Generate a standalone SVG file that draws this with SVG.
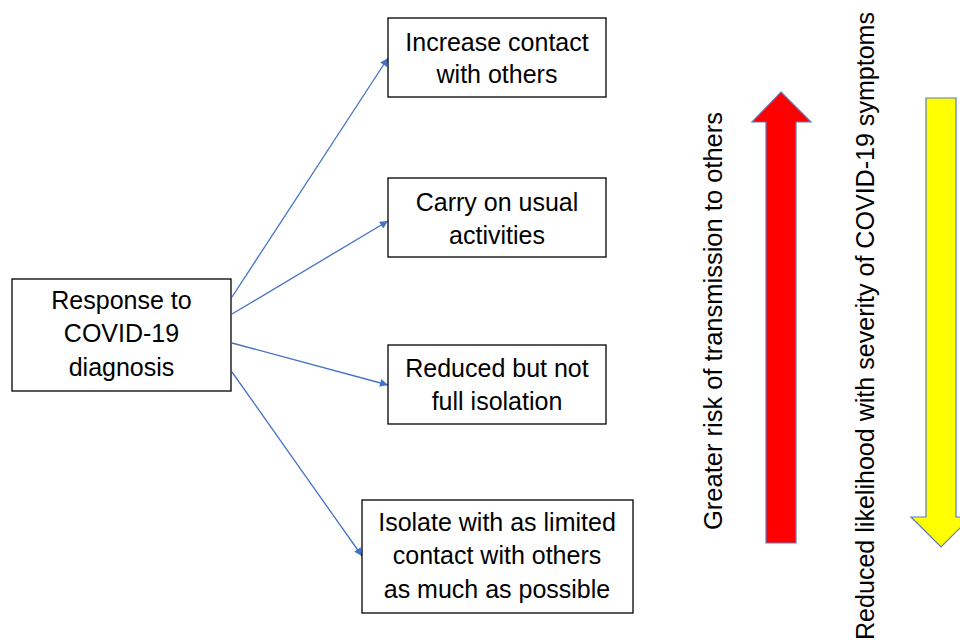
<svg xmlns="http://www.w3.org/2000/svg" width="960" height="644" viewBox="0 0 960 644">
<style>
.box{fill:#fff;stroke:#000;stroke-width:1.3}
.t{font-family:"Liberation Sans",Arial,sans-serif;font-size:25px;fill:#000;text-anchor:middle}
.c{stroke:#4472C4;stroke-width:1.3;fill:none;marker-end:url(#ah)}
.big{stroke:#5B7BC0;stroke-width:1.2}
</style>
<defs>
<marker id="ah" viewBox="0 0 10 10" refX="10" refY="5" markerWidth="9" markerHeight="8" markerUnits="userSpaceOnUse" orient="auto">
<path d="M0,0 L10,5 L0,10 z" fill="#4472C4"/>
</marker>
</defs>
<rect width="960" height="644" fill="#fff"/>
<g id="connectors">
<line class="c" x1="232" y1="297" x2="388" y2="58"/>
<line class="c" x1="232" y1="314" x2="388" y2="221"/>
<line class="c" x1="232" y1="343" x2="388" y2="385"/>
<line class="c" x1="232" y1="372" x2="362" y2="556"/>
</g>
<g id="source">
<rect class="box" x="12" y="279" width="219" height="112"/>
<text class="t" x="121.5" y="309">Response to</text>
<text class="t" x="121.5" y="342">COVID-19</text>
<text class="t" x="121.5" y="376">diagnosis</text>
</g>
<g id="increase">
<rect class="box" x="388" y="18" width="218" height="79"/>
<text class="t" x="497" y="51">Increase contact</text>
<text class="t" x="497" y="83">with others</text>
</g>
<g id="carry">
<rect class="box" x="388" y="178" width="218" height="79"/>
<text class="t" x="497" y="211">Carry on usual</text>
<text class="t" x="497" y="244">activities</text>
</g>
<g id="reduced">
<rect class="box" x="388" y="345" width="218" height="79"/>
<text class="t" x="497" y="377">Reduced but not</text>
<text class="t" x="497" y="410">full isolation</text>
</g>
<g id="isolate">
<rect class="box" x="362" y="500" width="271" height="113"/>
<text class="t" x="497" y="531">Isolate with as limited</text>
<text class="t" x="497" y="564">contact with others</text>
<text class="t" x="497" y="598">as much as possible</text>
</g>
<g id="red-arrow">
<path class="big" fill="#FF0000" d="M781,92 L811,122 L796,122 L796,543 L766,543 L766,122 L752,122 Z"/>
<text class="t" transform="translate(722,321) rotate(-90)" textLength="418" lengthAdjust="spacingAndGlyphs">Greater risk of transmission to others</text>
</g>
<g id="yellow-arrow">
<path class="big" fill="#FFFF00" d="M926,98 L956,98 L956,517 L971,517 L941,547 L911,517 L926,517 Z"/>
<text class="t" transform="translate(874,326) rotate(-90)" textLength="628" lengthAdjust="spacingAndGlyphs">Reduced likelihood with severity of COVID-19 symptoms</text>
</g>
</svg>
